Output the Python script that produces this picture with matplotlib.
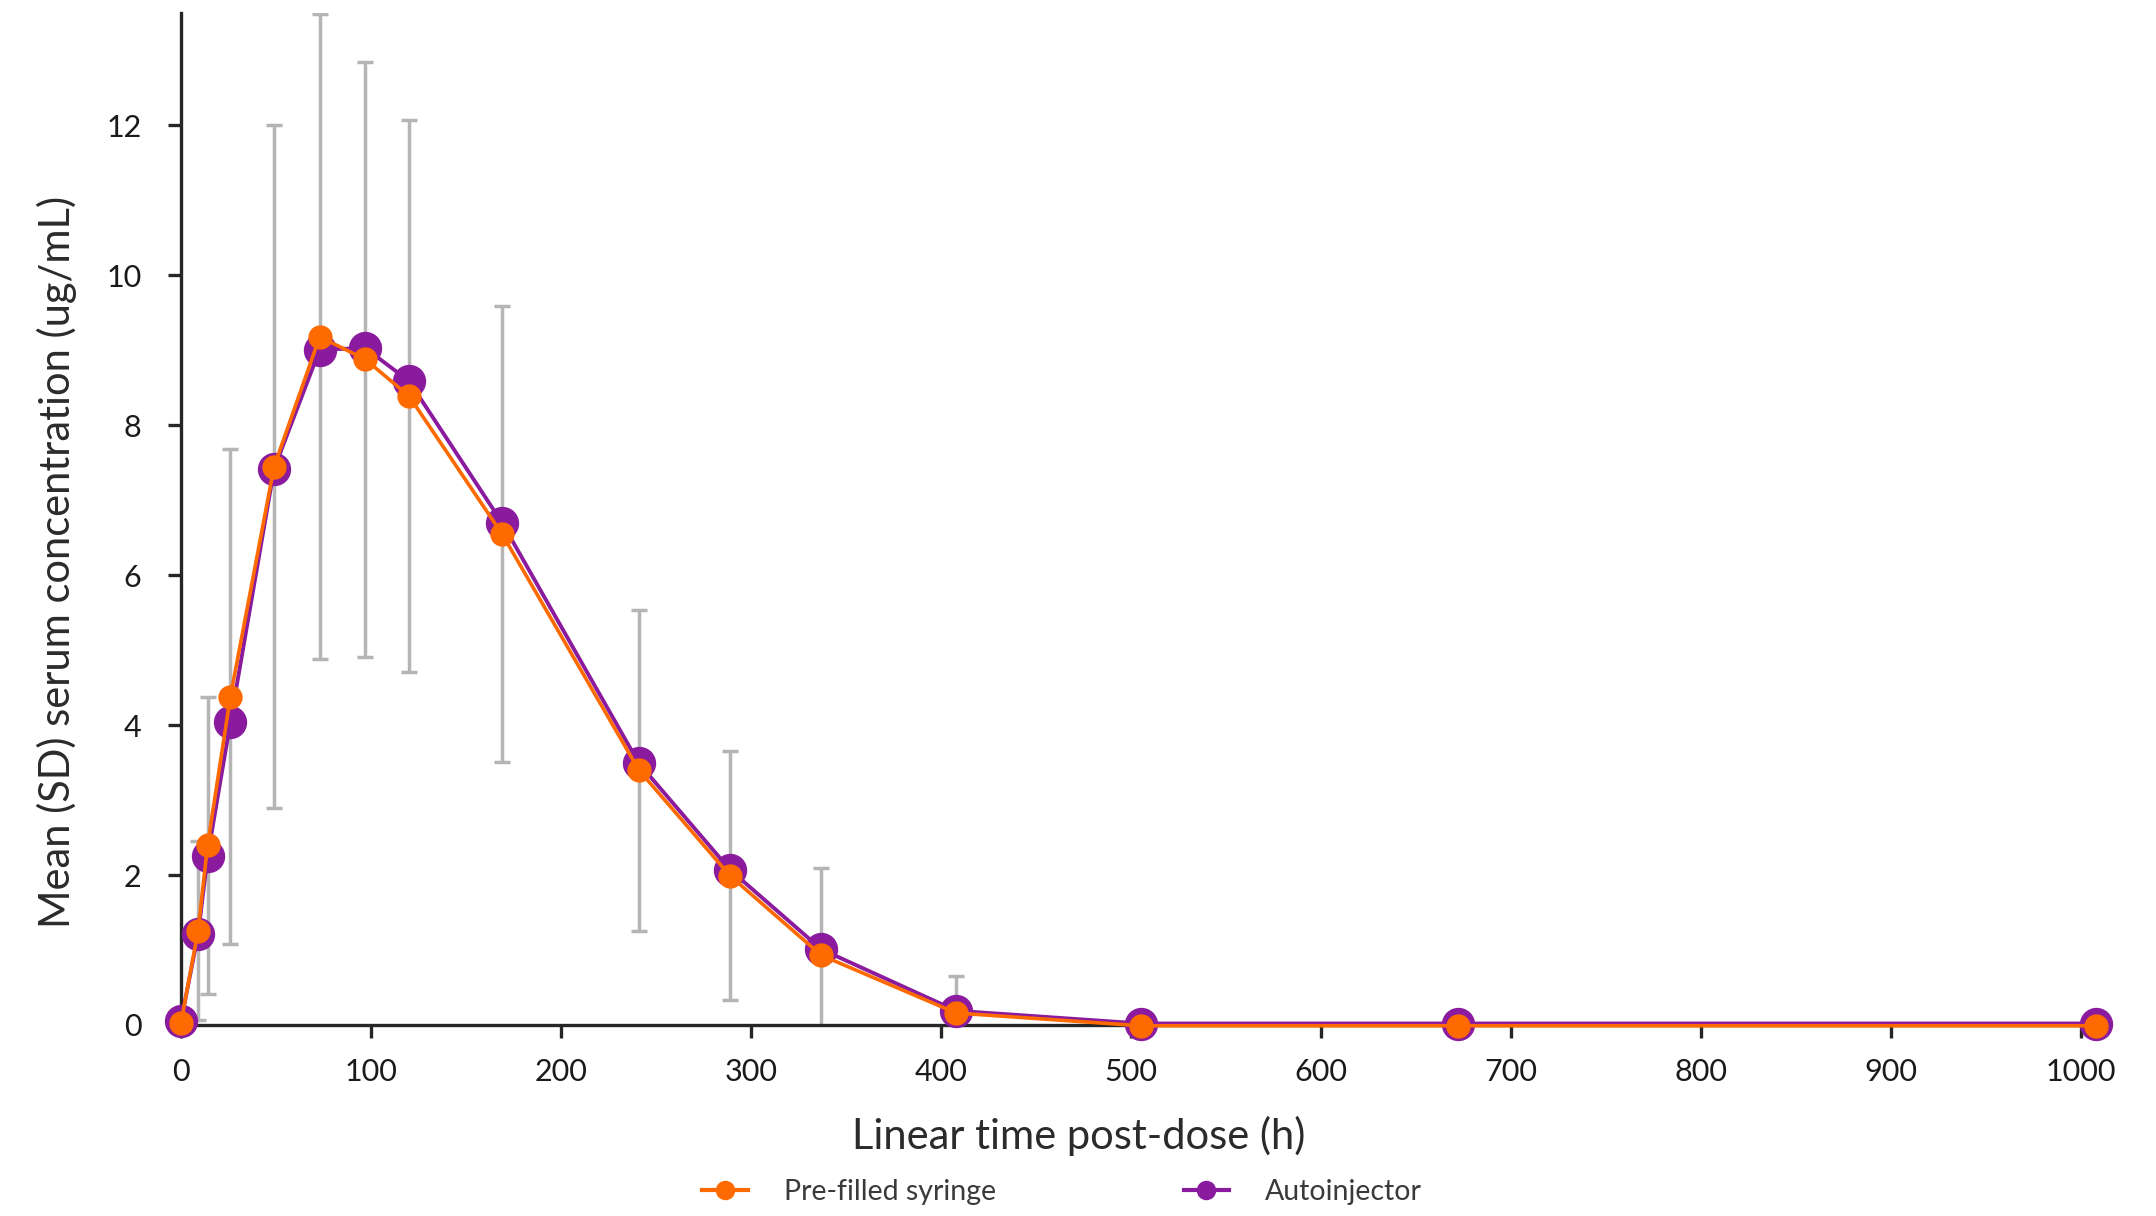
import numpy as np
import matplotlib
matplotlib.use("Agg")
import matplotlib.pyplot as plt
from matplotlib.lines import Line2D

# time points (h) and mean concentrations (ug/mL)
time_h = [0, 9, 14, 26, 49, 73, 97, 120, 169, 241, 289, 337, 408, 505, 672, 1008]
pfs_mean = [0.03, 1.26, 2.40, 4.38, 7.45, 9.18, 8.88, 8.39, 6.55, 3.40, 1.99, 0.93,
            0.16, -0.01, -0.01, -0.01]
pfs_sd = [0.0, 1.19, 1.98, 3.30, 4.55, 4.30, 3.97, 3.68, 3.04, 2.14, 1.66, 1.16,
          0.50, 0.0, 0.0, 0.0]
ai_mean = [0.05, 1.21, 2.25, 4.04, 7.42, 9.01, 9.03, 8.59, 6.70, 3.49, 2.07, 1.01,
           0.19, 0.02, 0.02, 0.02]

x_ticks = list(range(0, 1001, 100))
y_ticks = list(range(0, 13, 2))

ORANGE = "#FF6A00"
PURPLE = "#8A1B9E"
GREY = "#B5B5B5"
DARK = "#262626"

plt.rcParams["font.family"] = ["Lato", "DejaVu Sans"]

fig = plt.figure(figsize=(21.56, 12.16), dpi=100)
ax = fig.add_axes([181 / 2156, 1 - 1025 / 1216, 1919 / 2156, (1025 - 13) / 1216])

ax.errorbar(time_h, pfs_mean, yerr=pfs_sd, fmt="none", ecolor=GREY,
            elinewidth=2.5, capsize=6, capthick=2.5, zorder=1)
ax.plot(time_h, ai_mean, color=PURPLE, lw=2.8, marker="o", ms=23,
        mfc=PURPLE, mec=PURPLE, clip_on=False, zorder=3)
ax.plot(time_h, pfs_mean, color=ORANGE, lw=2.6, marker="o", ms=16.5,
        mfc=ORANGE, mec=ORANGE, clip_on=False, zorder=4)

ax.set_xlim(0, 1010)
ax.set_ylim(0, 13.5)
ax.set_xticks(x_ticks)
ax.set_yticks(y_ticks)

for side in ["top", "right"]:
    ax.spines[side].set_visible(False)
for side in ["left", "bottom"]:
    ax.spines[side].set_color(DARK)
    ax.spines[side].set_linewidth(2.4)

ax.tick_params(axis="both", direction="out", length=9.5, width=2.4,
               color=DARK, labelcolor="#1a1a1a", labelsize=22)
ax.tick_params(axis="x", pad=14)
ax.tick_params(axis="y", pad=19)

ax.set_xlabel("Linear time post-dose (h)", fontsize=30, color="#2b2b2b")
ax.xaxis.label.set_va("center")
ax.xaxis.set_label_coords(0.468, -0.1097)
ax.set_ylabel("Mean (SD) serum concentration (ug/mL)", fontsize=30,
              color="#2b2b2b")
ax.yaxis.label.set_va("center")
ax.yaxis.set_label_coords(-0.0646, 0.4577)

handles = [
    Line2D([], [], color=ORANGE, lw=3, marker="o", ms=13, label="Pre-filled syringe"),
    Line2D([], [], color=PURPLE, lw=3, marker="o", ms=13, label="Autoinjector"),
]
leg = fig.legend(handles=handles, loc="center", bbox_to_anchor=(1062 / 2156, 1 - 1192 / 1216),
                 ncol=2, frameon=False, handlelength=1.6,
                 handletextpad=1.25, columnspacing=6.6,
                 prop={"size": 20.5})
for t in leg.get_texts():
    t.set_color("#3a3a3a")

fig.savefig("out.png", dpi=100)
